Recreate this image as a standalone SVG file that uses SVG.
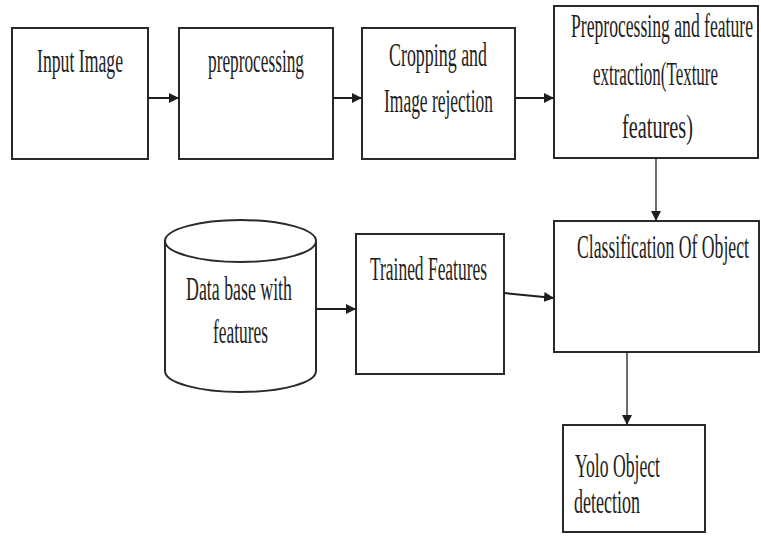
<svg xmlns="http://www.w3.org/2000/svg" width="761" height="542" viewBox="0 0 761 542">
<defs>
<style>
.box{fill:#fff;stroke:#2a2a2a;stroke-width:2}
.t{font-family:"Liberation Serif","Times New Roman",serif;font-size:18px;fill:#1e1e1e}
.c{stroke:#1e1e1e;stroke-width:2;fill:none}
.cv{stroke:#1e1e1e;stroke-width:1.3;fill:none}
</style>
<marker id="ah" viewBox="0 0 10 10" refX="10" refY="5" markerWidth="10" markerHeight="10" markerUnits="userSpaceOnUse" orient="auto">
<path d="M0,0 L10,5 L0,10 z" fill="#1e1e1e"/>
</marker>
</defs>
<rect width="761" height="542" fill="#fff"/>
<g id="n1">
<rect class="box" x="12" y="28" width="136" height="131"/>
<text class="t" transform="translate(37,72) scale(1,1.9)" textLength="86" lengthAdjust="spacingAndGlyphs">Input Image</text>
</g>
<g id="n2">
<rect class="box" x="179" y="28" width="154" height="131"/>
<text class="t" transform="translate(208,72) scale(1,1.9)" textLength="96" lengthAdjust="spacingAndGlyphs">preprocessing</text>
</g>
<g id="n3">
<rect class="box" x="362" y="28" width="153" height="131"/>
<text class="t" transform="translate(389,66) scale(1,1.9)" textLength="98" lengthAdjust="spacingAndGlyphs">Cropping and</text>
<text class="t" transform="translate(384,112) scale(1,1.9)" textLength="109" lengthAdjust="spacingAndGlyphs">Image rejection</text>
</g>
<g id="n4">
<rect class="box" x="554" y="6" width="204" height="152"/>
<text class="t" transform="translate(571,37) scale(1,1.9)" textLength="182" lengthAdjust="spacingAndGlyphs">Preprocessing and feature</text>
<text class="t" transform="translate(593,85) scale(1,1.9)" textLength="125" lengthAdjust="spacingAndGlyphs">extraction(Texture</text>
<text class="t" transform="translate(622,138) scale(1,1.9)" textLength="71" lengthAdjust="spacingAndGlyphs">features)</text>
</g>
<g id="n5">
<rect class="box" x="554" y="221" width="205" height="131"/>
<text class="t" transform="translate(577,258) scale(1,1.9)" textLength="172" lengthAdjust="spacingAndGlyphs">Classification Of Object</text>
</g>
<g id="n6">
<rect class="box" x="563" y="425" width="142" height="107"/>
<text class="t" transform="translate(575,477) scale(1,1.9)" textLength="85" lengthAdjust="spacingAndGlyphs">Yolo Object</text>
<text class="t" transform="translate(574,513) scale(1,1.9)" textLength="66" lengthAdjust="spacingAndGlyphs">detection</text>
</g>
<g id="n7">
<path class="box" d="M165,241 L165,371 A75.5,21 0 0 0 316,371 L316,241"/>
<ellipse class="box" cx="240.5" cy="241" rx="75.5" ry="21"/>
<text class="t" transform="translate(186,300) scale(1,1.9)" textLength="106" lengthAdjust="spacingAndGlyphs">Data base with</text>
<text class="t" transform="translate(213,343) scale(1,1.9)" textLength="55" lengthAdjust="spacingAndGlyphs">features</text>
</g>
<g id="n8">
<rect class="box" x="356" y="234" width="148" height="140"/>
<text class="t" transform="translate(370,280) scale(1,1.9)" textLength="117" lengthAdjust="spacingAndGlyphs">Trained Features</text>
</g>
<g id="connectors">
<line class="c" x1="148" y1="98" x2="179" y2="98" marker-end="url(#ah)"/>
<line class="c" x1="333" y1="98" x2="362" y2="98" marker-end="url(#ah)"/>
<line class="c" x1="515" y1="98" x2="554" y2="98" marker-end="url(#ah)"/>
<line class="cv" x1="656" y1="158" x2="656" y2="221" marker-end="url(#ah)"/>
<line class="c" x1="316" y1="309" x2="356" y2="309" marker-end="url(#ah)"/>
<line class="c" x1="504" y1="293" x2="554" y2="298" marker-end="url(#ah)"/>
<line class="cv" x1="627" y1="352" x2="627" y2="425" marker-end="url(#ah)"/>
</g>
</svg>
